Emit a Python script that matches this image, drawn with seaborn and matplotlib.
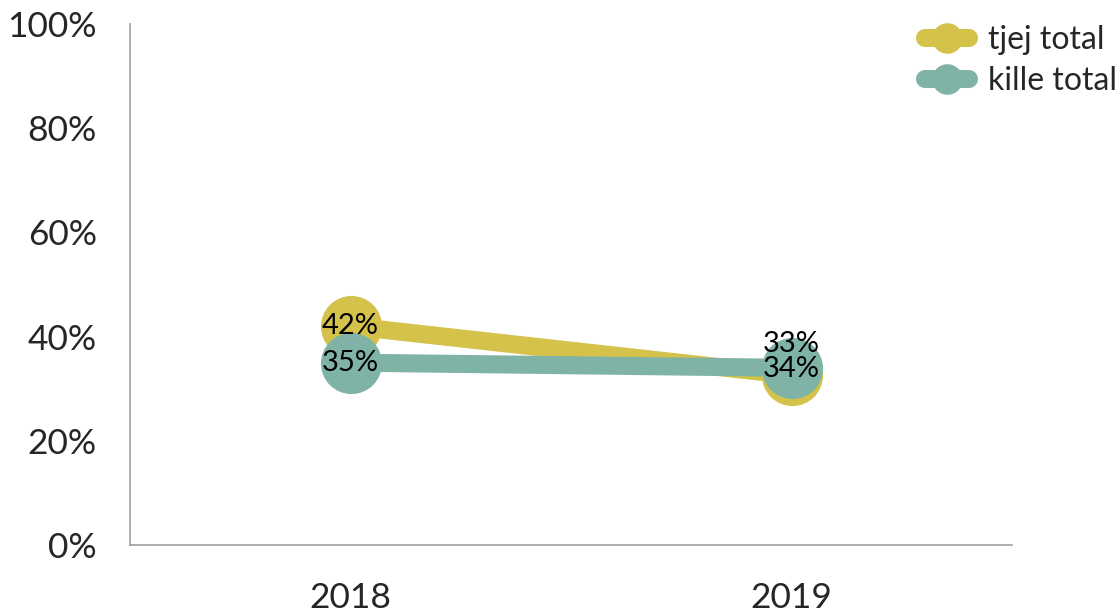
import matplotlib
matplotlib.use("Agg")
import matplotlib.pyplot as plt
from matplotlib.lines import Line2D
from matplotlib.ticker import FixedLocator, PercentFormatter
import seaborn as sns
import pandas as pd

years = ["2018", "2019"]
series = ["tjej total", "kille total"]
tjej = [42.0, 32.6]
kille = [35.0, 34.0]
colors = ["#D4C24A", "#7FB3A6"]

df = pd.DataFrame({
    "year": years * 2,
    "value": tjej + kille,
    "series": [series[0]] * 2 + [series[1]] * 2,
})

sns.set_style("white")
plt.rcParams["font.family"] = ["Lato", "DejaVu Sans"]

fig = plt.figure(figsize=(11.2, 6.14), dpi=100)
ax = fig.add_axes([130 / 1120, 69 / 614, 882 / 1120, 521 / 614])

sns.lineplot(data=df, x="year", y="value", hue="series", palette=colors,
             marker="o", markersize=44, linewidth=13, markeredgewidth=0,
             ax=ax, legend=False, sort=False)

ax.set_xlim(-0.5, 1.5)
ax.set_ylim(0, 100)
ax.set_yticks([0, 20, 40, 60, 80, 100])
ax.yaxis.set_major_formatter(PercentFormatter(decimals=0))
ax.set_xticks([0, 1])
ax.set_xticklabels(years)
ax.xaxis.set_minor_locator(FixedLocator([-0.5, 0.5, 1.5]))
ax.tick_params(axis="x", which="major", length=0, pad=27, labelsize=25.5)
ax.tick_params(axis="x", which="minor", length=9, color="#A0A0A0", width=1.2, direction="out")
ax.tick_params(axis="y", length=8, color="#A0A0A0", width=1.2, direction="out", labelsize=25.5, pad=16)
ax.set_xlabel("")
ax.set_ylabel("")
for s in ["top", "right"]:
    ax.spines[s].set_visible(False)
for s in ["left", "bottom"]:
    ax.spines[s].set_color("#A0A0A0")
    ax.spines[s].set_linewidth(1.2)

# data labels
lab_kw = dict(ha="center", va="center", fontsize=21, color="black")
ax.text(0, tjej[0], f"{tjej[0]:.0f}%", **lab_kw)
ax.text(1, 38.6, f"{round(tjej[1]):.0f}%", **lab_kw)
ax.text(0, kille[0], f"{kille[0]:.0f}%", **lab_kw)
ax.text(1, kille[1] - 0.3, f"{kille[1]:.0f}%", **lab_kw)

handles = [Line2D([0], [0], color=c, linewidth=13, marker="o", markersize=22,
                  markeredgewidth=0, solid_capstyle="round") for c in colors]
leg = fig.legend(handles, series, loc="upper right", bbox_to_anchor=(1.012, 0.985),
                 frameon=False, fontsize=23, handlelength=1.4, handletextpad=0.6,
                 labelspacing=0.35, borderaxespad=0.1)

fig.savefig("out.png", dpi=100)
